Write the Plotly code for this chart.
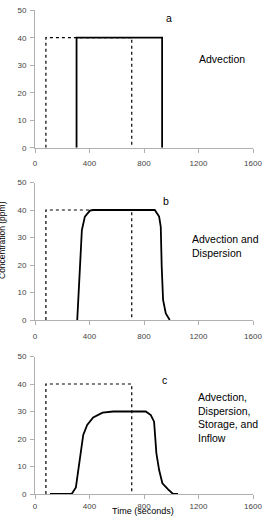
import plotly.graph_objects as go

W, H = 268, 522

# Input pulse (dotted) shared by all panels
input_t = [80, 80, 710, 710]
input_c = [0, 40, 40, 0]

# Panel a: advection only
a_t = [305, 305, 933, 933]
a_c = [0, 40, 40, 0]

# Panel b: advection and dispersion
b_t = [310, 317, 330, 344, 366, 403, 427, 879, 911, 923, 930, 940, 960, 989]
b_c = [0, 7.3, 19.4, 32.7, 37.6, 39.8, 40, 40, 37.6, 33.9, 19.4, 7.3, 2.4, 0]

# Panel c: advection, dispersion, storage and inflow
c_t = [110, 269, 300, 318, 335, 354, 383, 427, 496, 574, 813, 850, 874, 891, 911, 935, 977, 1013, 1050]
c_c = [0, 0, 2.4, 8.7, 16, 21.5, 25.1, 27.8, 29.6, 30, 30, 28.7, 26.3, 14.8, 8.7, 3.9, 1.7, 0, 0]

x_ticks = [0, 400, 800, 1200, 1600]
y_ticks = [0, 10, 20, 30, 40, 50]

panel_letters = ["a", "b", "c"]
panel_texts = ["Advection", "Advection and<br>Dispersion",
               "Advection,<br>Dispersion,<br>Storage, and<br>Inflow"]
x_title = "Time (seconds)"
y_title = "Concentration (ppm)"

# pixel geometry of the three plot areas (top, bottom)
panels_px = [(10.2, 147.7), (182.5, 320.0), (356.5, 494.0)]
x_left, x_right = 35, 253
x_standoff = [4, 4, 0]

fig = go.Figure()
solid = [(a_t, a_c), (b_t, b_c), (c_t, c_c)]
axis_font = dict(family="Liberation Sans", size=8, color="#444")
for i in range(3):
    xa = "x" if i == 0 else f"x{i+1}"
    ya = "y" if i == 0 else f"y{i+1}"
    fig.add_trace(go.Scatter(x=input_t, y=input_c, mode="lines",
                             line=dict(color="black", width=1.2, dash="dot"),
                             xaxis=xa, yaxis=ya, showlegend=False))
    fig.add_trace(go.Scatter(x=solid[i][0], y=solid[i][1], mode="lines",
                             line=dict(color="black", width=1.8),
                             xaxis=xa, yaxis=ya, showlegend=False))
    top, bot = panels_px[i]
    xkey = "xaxis" if i == 0 else f"xaxis{i+1}"
    ykey = "yaxis" if i == 0 else f"yaxis{i+1}"
    fig.layout[xkey] = dict(domain=[x_left / W, x_right / W], range=[0, 1600],
                            anchor=ya, tickvals=x_ticks, showgrid=False, zeroline=False,
                            showline=True, linecolor="#b0b0b0", linewidth=1,
                            ticks="outside", ticklen=4, tickcolor="#b0b0b0",
                            ticklabelstandoff=x_standoff[i], automargin=False,
                            tickfont=axis_font)
    fig.layout[ykey] = dict(domain=[1 - bot / H, 1 - top / H], range=[0, 50],
                            anchor=xa, tickvals=y_ticks, showgrid=False, zeroline=False,
                            showline=True, linecolor="#b0b0b0", linewidth=1,
                            ticks="outside", ticklen=4, tickcolor="#b0b0b0",
                            ticklabelstandoff=2, automargin=False,
                            tickfont=axis_font)

ann_font = dict(family="Liberation Sans", size=10.5, color="black")
letter_pos = [(982, 47), (960, 43.3), (952, 41.5)]
text_pos = [(1370, 32.3, "center"), (1135, 27, "left"), (1180, 28, "left")]
for i in range(3):
    xa = "x" if i == 0 else f"x{i+1}"
    ya = "y" if i == 0 else f"y{i+1}"
    fig.add_annotation(x=letter_pos[i][0], y=letter_pos[i][1], xref=xa, yref=ya,
                       text=panel_letters[i], showarrow=False, font=ann_font)
    tx, ty, al = text_pos[i]
    fig.add_annotation(x=tx, y=ty, xref=xa, yref=ya, text=panel_texts[i],
                       showarrow=False, font=ann_font, align="left",
                       xanchor="center" if al == "center" else "left")

fig.add_annotation(x=143 / W, y=1 - 518 / H, xref="paper", yref="paper",
                   text=x_title, showarrow=False,
                   font=dict(family="Liberation Sans", size=9, color="black"))
fig.add_annotation(x=2 / W, y=1 - 240 / H, xref="paper", yref="paper",
                   text=y_title, showarrow=False, textangle=-90, xanchor="center",
                   font=dict(family="Liberation Sans", size=8.5, color="black"))

fig.update_layout(width=W, height=H, margin=dict(l=0, r=0, t=0, b=0, autoexpand=False),
                  paper_bgcolor="white", plot_bgcolor="white")
fig.write_html("out.html",
               post_script="document.body.style.margin='0';document.body.style.overflow='hidden';")
